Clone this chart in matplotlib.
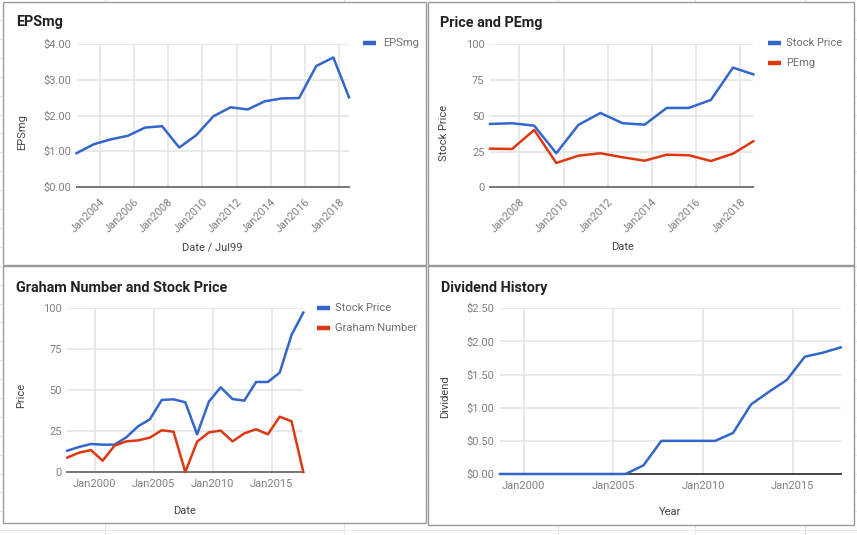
import matplotlib
matplotlib.use("Agg")
import matplotlib.pyplot as plt
from matplotlib.lines import Line2D
from matplotlib.patches import Rectangle
import pandas as pd

plt.rcParams['font.family'] = ['Roboto', 'DejaVu Sans']

# ---------------- data ----------------
eps_dates = ['2002-08-25', '2003-08-25', '2004-08-25', '2005-08-25', '2006-08-25',
             '2007-08-25', '2008-08-25', '2009-08-25', '2010-08-25', '2011-08-25',
             '2012-08-25', '2013-08-25', '2014-08-25', '2015-08-25', '2016-08-25',
             '2017-08-25', '2018-07-25']
eps_values = [0.94, 1.19, 1.33, 1.43, 1.66, 1.70, 1.10, 1.45, 1.98, 2.23, 2.17,
              2.40, 2.48, 2.49, 3.39, 3.63, 2.51]
eps_ticks = [2004, 2006, 2008, 2010, 2012, 2014, 2016, 2018]

pe_dates = ['2006-09-03', '2007-09-03', '2008-09-03', '2009-09-03', '2010-09-03',
            '2011-09-03', '2012-09-03', '2013-09-03', '2014-09-03', '2015-09-03',
            '2016-09-03', '2017-09-03', '2018-08-05']
pe_price = [44.3, 44.8, 43.1, 23.8, 43.6, 52.0, 44.8, 43.8, 55.5, 55.5, 61.1, 83.7, 79.0]
pe_pemg = [27.0, 26.8, 40.1, 17.0, 22.1, 23.8, 21.0, 18.6, 22.8, 22.4, 18.4, 23.5, 32.2]
pe_ticks = [2008, 2010, 2012, 2014, 2016, 2018]

gr_dates = ['1997-09-05', '1998-09-05', '1999-09-05', '2000-09-05', '2001-09-05',
            '2002-09-05', '2003-09-05', '2004-09-05', '2005-09-05', '2006-09-05',
            '2007-09-05', '2008-09-05', '2009-09-05', '2010-09-05', '2011-09-05',
            '2012-09-05', '2013-09-05', '2014-09-05', '2015-09-05', '2016-09-05',
            '2017-09-05']
gr_price = [13.0, 15.3, 17.1, 16.7, 16.7, 21.2, 27.9, 32.2, 44.0, 44.4, 42.6, 23.0,
            43.0, 51.7, 44.6, 43.6, 55.0, 55.0, 60.7, 83.7, 97.4]
gr_graham = [8.8, 11.8, 13.4, 6.9, 16.1, 18.7, 19.3, 21.0, 25.5, 24.6, 0.0, 18.5,
             24.2, 25.3, 18.7, 23.6, 26.1, 23.0, 33.8, 31.0, 0.0]
gr_ticks = [2000, 2005, 2010, 2015]

dv_dates = ['1998-09-05', '1999-09-05', '2000-09-05', '2001-09-05', '2002-09-05',
            '2003-09-05', '2004-09-05', '2005-09-05', '2006-09-05', '2007-09-05',
            '2008-09-05', '2009-09-05', '2010-09-05', '2011-09-05', '2012-09-05',
            '2013-09-05', '2014-09-05', '2015-09-05', '2016-09-05', '2017-09-05']
dv_values = [0, 0, 0, 0, 0, 0, 0, 0, 0.13, 0.50, 0.50, 0.50, 0.50, 0.62, 1.05,
             1.24, 1.42, 1.77, 1.83, 1.91]
dv_ticks = [2000, 2005, 2010, 2015]

# ---------------- style ----------------
BLUE = '#3366cc'
RED = '#dc3912'
GRID = '#e3e3e3'
TICK_C = '#808080'
AXT_C = '#444444'
TITLE_FS = 10.4
W, H = 857, 535

fig = plt.figure(figsize=(W / 100, H / 100), dpi=100)
fig.patch.set_facecolor('white')


def fx(x):
    return x / W


def fy(y):
    return 1 - y / H


# spreadsheet background lines
for k in range(28):
    yy = 20 + k * 18.9
    fig.add_artist(Line2D([0, 1], [fy(yy), fy(yy)], color='#e6e6e6', lw=0.8, zorder=-3))
for xx in [105, 344, 558, 695, 805]:
    fig.add_artist(Line2D([fx(xx), fx(xx)], [0, 1], color='#e6e6e6', lw=0.8, zorder=-3))

# panel frames
for (x0, y0, x1, y1) in [(3, 1.7, 426, 265), (428, 1.7, 854, 265),
                         (3, 266, 426, 523), (428, 266, 854, 524.5)]:
    fig.add_artist(Rectangle((fx(x0), fy(y1)), fx(x1 - x0), (y1 - y0) / H,
                             facecolor='white', edgecolor='#9a9a9a', lw=1.0, zorder=-1))


def make_axes(x0, x1, ytop, ybot):
    ax = fig.add_axes([fx(x0), fy(ybot), fx(x1 - x0), (ybot - ytop) / H])
    ax.set_facecolor('none')
    for s in ax.spines.values():
        s.set_visible(False)
    ax.grid(True, color=GRID, lw=1.1)
    ax.set_axisbelow(True)
    ax.tick_params(length=0, colors=TICK_C, labelsize=8)
    return ax


def dates(lst):
    return pd.to_datetime(lst)


def xticks(ax, years, rotate):
    pos = pd.to_datetime([f'{y}-01-01' for y in years])
    labs = [f'Jan{y}' for y in years]
    if rotate:
        ax.set_xticks(pos, labs, rotation=45, ha='right', rotation_mode='anchor')
        ax.tick_params(axis='x', pad=7)
    else:
        ax.set_xticks(pos, labs)
        ax.tick_params(axis='x', pad=5)
    ax.tick_params(axis='y', pad=4)


def legend(entries, x_sw, x_txt, y0, dy):
    for i, (name, col) in enumerate(entries):
        yy = y0 + i * dy
        fig.add_artist(Line2D([fx(x_sw), fx(x_sw + 13)], [fy(yy), fy(yy)], color=col,
                              lw=3.2, solid_capstyle='butt'))
        fig.text(fx(x_txt), fy(yy), name, fontsize=8, color='#6f6f6f', va='center', ha='left')


# ---- Panel 1: EPSmg
ax1 = make_axes(76.5, 349, 44.3, 186.7)
d = dates(eps_dates)
ax1.plot(d, eps_values, color=BLUE, lw=1.8, clip_on=False, zorder=3)
ax1.set_xlim(d[0], d[-1])
ax1.set_ylim(0, 4)
ax1.set_yticks([0, 1, 2, 3, 4], [f'${v:.2f}' for v in [0, 1, 2, 3, 4]])
xticks(ax1, eps_ticks, True)
ax1.axhline(0, color='#777777', lw=1.4, zorder=2.5, clip_on=False)
fig.text(fx(16.5), fy(26), 'EPSmg', fontsize=TITLE_FS, fontweight='bold', color='#222222', va='baseline')
fig.text(fx(21.7), fy(132), 'EPSmg', fontsize=8, color=AXT_C, rotation=90, ha='center', va='center')
fig.text(fx(212), fy(247.3), 'Date / Jul99', fontsize=8, color=AXT_C, ha='center', va='center')
legend([('EPSmg', BLUE)], 363, 383, 43.3, 20)

# ---- Panel 2: Price and PEmg
ax2 = make_axes(490, 753.3, 44.3, 187.3)
d = dates(pe_dates)
ax2.plot(d, pe_price, color=BLUE, lw=1.8, clip_on=False, zorder=3)
ax2.plot(d, pe_pemg, color=RED, lw=1.8, clip_on=False, zorder=3)
ax2.set_xlim(d[0], d[-1])
ax2.set_ylim(0, 100)
ax2.set_yticks([0, 25, 50, 75, 100])
xticks(ax2, pe_ticks, True)
ax2.axhline(0, color='#777777', lw=1.4, zorder=2.5, clip_on=False)
fig.text(fx(439.7), fy(26.5), 'Price and PEmg', fontsize=TITLE_FS, fontweight='bold', color='#222222', va='baseline')
fig.text(fx(444.3), fy(132.7), 'Stock Price', fontsize=8, color=AXT_C, rotation=90, ha='center', va='center')
fig.text(fx(622.7), fy(247.3), 'Date', fontsize=8, color=AXT_C, ha='center', va='center')
legend([('Stock Price', BLUE), ('PEmg', RED)], 768, 786.3, 43.3, 20)

# ---- Panel 3: Graham Number and Stock Price
ax3 = make_axes(67.3, 303.3, 308.3, 472)
d = dates(gr_dates)
ax3.plot(d, gr_price, color=BLUE, lw=1.8, clip_on=False, zorder=3)
ax3.plot(d, gr_graham, color=RED, lw=1.8, clip_on=False, zorder=3)
ax3.set_xlim(d[0], d[-1])
ax3.set_ylim(0, 100)
ax3.set_yticks([0, 25, 50, 75, 100])
xticks(ax3, gr_ticks, False)
ax3.axhline(0, color='#777777', lw=1.4, zorder=2.5, clip_on=False)
fig.text(fx(16), fy(292.3), 'Graham Number and Stock Price', fontsize=TITLE_FS, fontweight='bold', color='#222222', va='baseline')
fig.text(fx(20.8), fy(395), 'Price', fontsize=8, color=AXT_C, rotation=90, ha='center', va='center')
fig.text(fx(185), fy(510.7), 'Date', fontsize=8, color=AXT_C, ha='center', va='center')
legend([('Stock Price', BLUE), ('Graham Number', RED)], 316.7, 335, 308.3, 20)

# ---- Panel 4: Dividend History
ax4 = make_axes(500, 840.7, 308.3, 474)
d = dates(dv_dates)
ax4.plot(d, dv_values, color=BLUE, lw=1.8, clip_on=False, zorder=3)
ax4.set_xlim(d[0], d[-1])
ax4.set_ylim(0, 2.5)
yt = [0, 0.5, 1.0, 1.5, 2.0, 2.5]
ax4.set_yticks(yt, [f'${v:.2f}' for v in yt])
xticks(ax4, dv_ticks, False)
ax4.axhline(0, color='#444444', lw=1.4, zorder=2.5, clip_on=False)
fig.text(fx(440.7), fy(292.3), 'Dividend History', fontsize=TITLE_FS, fontweight='bold', color='#222222', va='baseline')
fig.text(fx(445), fy(396.7), 'Dividend', fontsize=8, color=AXT_C, rotation=90, ha='center', va='center')
fig.text(fx(670.5), fy(511.7), 'Year', fontsize=8, color=AXT_C, ha='center', va='center')

fig.savefig('out.png', dpi=100, facecolor='white')
